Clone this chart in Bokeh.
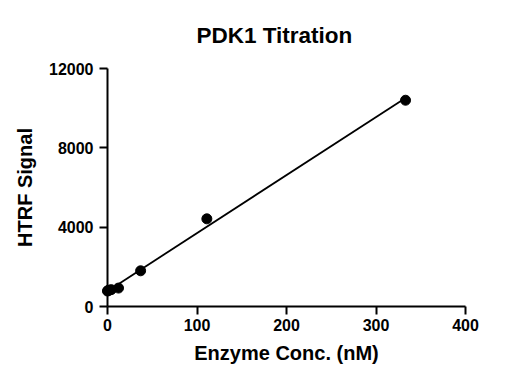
import numpy as np
from bokeh.plotting import figure
from bokeh.models import FixedTicker, Range1d, Title
from bokeh.embed import file_html
from bokeh.resources import INLINE

# Data
conc_nM = [0.0, 0.457, 1.37, 4.12, 12.3, 37.0, 111.0, 333.0]
htrf_signal = [780, 800, 820, 850, 930, 1800, 4420, 10400]
x_ticks = [0, 100, 200, 300, 400]
y_ticks = [0, 4000, 8000, 12000]

FONT = "Liberation Sans"

p = figure(width=513, height=374, output_backend="svg", toolbar_location=None,
           x_range=Range1d(0, 400), y_range=Range1d(0, 12000),
           min_border_left=107, min_border_right=48, min_border_top=68, min_border_bottom=68)
p.title = Title(text="PDK1 Titration", align="left", offset=89, standoff=41,
                text_font=FONT, text_font_size="22.5px", text_font_style="bold",
                text_color="black")
p.outline_line_color = None
p.xgrid.visible = False
p.ygrid.visible = False

# linear fit through the data
slope, intercept = np.polyfit(conc_nM, htrf_signal, 1)
fx = [min(conc_nM), max(conc_nM)]
fy = [slope * v + intercept for v in fx]
p.line(fx, fy, line_color="black", line_width=1.8, level="overlay")
p.scatter(conc_nM, htrf_signal, size=10, color="black", level="overlay")

for ax in (p.xaxis[0], p.yaxis[0]):
    ax.axis_line_width = 2
    ax.axis_line_color = "black"
    ax.major_tick_line_width = 2
    ax.major_tick_line_color = "black"
    ax.major_tick_out = 8
    ax.major_tick_in = 0
    ax.minor_tick_line_color = None
    ax.major_label_text_font = FONT
    ax.major_label_text_font_size = "16px"
    ax.major_label_text_font_style = "bold"
    ax.major_label_text_color = "black"
    ax.axis_label_text_font = FONT
    ax.axis_label_text_font_size = "20px"
    ax.axis_label_text_font_style = "bold"
    ax.axis_label_text_color = "black"

p.xaxis[0].ticker = FixedTicker(ticks=x_ticks)
p.yaxis[0].ticker = FixedTicker(ticks=y_ticks)
p.xaxis[0].axis_label = "Enzyme Conc. (nM)"
p.yaxis[0].axis_label = "HTRF Signal"
p.xaxis[0].major_label_standoff = 4
p.yaxis[0].major_label_standoff = 6
p.xaxis[0].axis_label_standoff = 8
p.yaxis[0].axis_label_standoff = 10

open("out.html", "w").write(file_html(p, INLINE))
